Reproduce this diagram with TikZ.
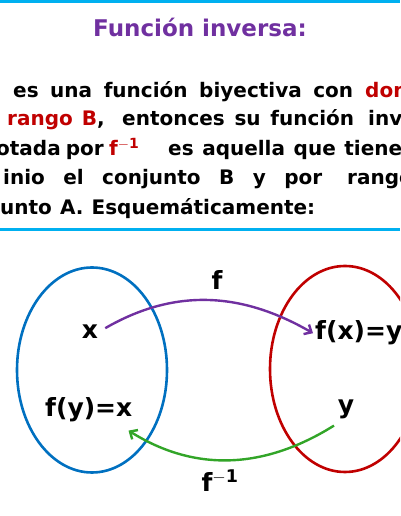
\documentclass[tikz,border=0pt]{standalone}
\usepackage{fontspec}
\setmainfont{DejaVu Sans}
\usepackage{tikz}
\usetikzlibrary{positioning,arrows.meta}
\definecolor{morado}{RGB}{112,48,160}
\definecolor{rojo}{RGB}{192,0,0}
\definecolor{celeste}{RGB}{0,176,240}
\definecolor{azul}{RGB}{0,112,192}
\definecolor{verde}{RGB}{50,165,40}

\begin{document}
\begin{tikzpicture}[
  x=1pt, y=1pt,
  linea/.style={celeste, line width=3pt},
  texto/.style={anchor=base west, inner sep=0pt, font=\fontsize{20}{24}\selectfont\bfseries},
  etiq/.style={inner sep=2pt, font=\fontsize{25}{30}\selectfont\bfseries},
  conj/.style={line width=2.6pt},
  flecha/.style={line width=2.4pt, -{Straight Barb[length=6pt,width=11pt,line width=2.4pt]}}
]
\useasboundingbox (0,0) rectangle (400,516);
\clip (0,0) rectangle (400,516);
% marco del texto
\draw[linea] (0,514.5) -- (400,514.5);
\draw[linea] (0,286.5) -- (400,286.5);
% titulo
\node[anchor=base, inner sep=0pt, text=morado, font=\fontsize{23}{28}\selectfont\bfseries]
  (titulo) at (200,479) {Función inversa:};
% definicion
\node[texto] (l1) at (13,418) {\makebox[340pt][s]{es una función biyectiva con}};
\node[texto, text=rojo] (l1r) at (365,418) {dominio};
\node[texto, text=rojo] (l2r) at (7,390) {\makebox[90pt][s]{rango B}};
\node[texto] (l2) at (97,390) {,};
\node[texto] (l2b) at (122,390) {\makebox[232pt][s]{entonces su función}};
\node[texto] (l2c) at (368,390) {inversa};
\node[texto] (l3) at (-4,360) {\spaceskip=.25em\makebox[106pt][s]{otada por}};
\node[texto, text=rojo] (l3r) at (109,360) {f$^{\mathbf{-1}}$};
\node[texto] (l3b) at (168,360) {\makebox[234pt][s]{es aquella que tiene}};
\node[texto] (l4) at (3,331) {\makebox[319pt][s]{inio el conjunto B y por}};
\node[texto] (l4b) at (347,331) {rango};
\node[texto] (l5) at (0,301) {\makebox[315pt][s]{unto A. Esquemáticamente:}};
% conjuntos
\draw[conj, azul] (92,146) ellipse [x radius=75, y radius=102.5];
\draw[conj, rojo] (345,147) ellipse [x radius=75, y radius=103];
% elementos
\node[etiq, anchor=base] (xa) at (90,177) {x};
\node[etiq, anchor=base west] (fxy) at (313,176) {f(x)=y};
\node[etiq, anchor=base west] (fyx) at (43,99) {f(y)=x};
\node[etiq, anchor=base] (yb) at (346,102) {y};
\node[etiq, anchor=base] (ef) at (217,226) {f};
\node[etiq, anchor=base] (efi) at (220,24) {f$^{\mathbf{-1}}$};
% flechas
\draw[flecha, morado] ([xshift=5pt,yshift=4pt]xa.east) to[out=30,in=150] (fxy.west);
\draw[flecha, verde] ([xshift=-12pt,yshift=-4pt]yb.south) to[out=212,in=-32] ([xshift=-6pt,yshift=-6pt]fyx.south east);
\end{tikzpicture}
\end{document}
